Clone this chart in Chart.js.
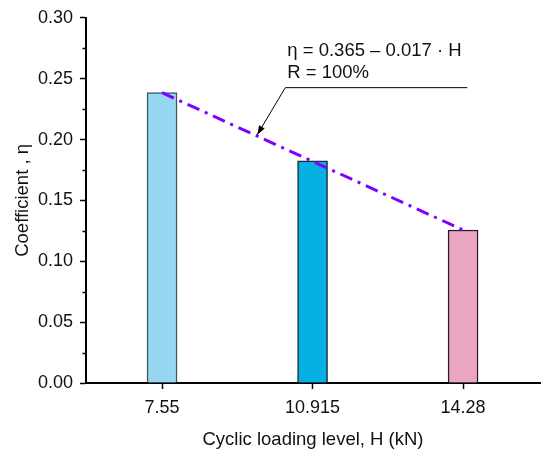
<!DOCTYPE html>
<html>
<head>
<meta charset="utf-8">
<script src="https://cdn.jsdelivr.net/npm/chart.js@4.4.0/dist/chart.umd.min.js"></script>
<style>
html,body{margin:0;padding:0;background:#fff;}
#wrap{width:542px;height:455px;}
</style>
</head>
<body>
<div id="wrap"><canvas id="c" width="542" height="455"></canvas></div>
<script>
const loadLevels = [7.55, 10.915, 14.28];
const xTickLabels = ['7.55', '10.915', '14.28'];
const coefficients = [0.2385, 0.1825, 0.1257];
const fitValues = [0.2385, 0.1821, 0.1257];
const yTickLabels = ['0.00', '0.05', '0.10', '0.15', '0.20', '0.25', '0.30'];
const barColors = ['#98D7F1', '#07B0E3', '#EAA5C2'];
const barBorders = ['#3E5563', '#1E2E38', '#2A1E24'];
const fitText = ['\u03B7 = 0.365 \u2013 0.017 \u00B7 H', 'R = 100%'];
const arrowAnchor = {x: 9.68, y: 0.2040};

const FONT = "'Liberation Sans', Arial, sans-serif";

const minorTicks = {
  id: 'minorTicks',
  afterDraw(chart) {
    const y = chart.scales.y, ctx = chart.ctx;
    ctx.save();
    ctx.strokeStyle = '#000';
    ctx.lineWidth = 1.5;
    for (let i = 0; i < yTickLabels.length - 1; i++) {
      const v = 0.025 + i * 0.05;
      const py = Math.round(y.getPixelForValue(v)) + 0.5;
      ctx.beginPath();
      ctx.moveTo(y.right - 3.5, py);
      ctx.lineTo(y.right, py);
      ctx.stroke();
    }
    ctx.restore();
  }
};

const annotation = {
  id: 'annotation',
  afterDraw(chart) {
    const xs = chart.scales.x, ys = chart.scales.y, ctx = chart.ctx;
    const tx = xs.getPixelForValue(arrowAnchor.x);
    const ty = ys.getPixelForValue(arrowAnchor.y);
    const ex = tx + 28, ey = ty - 47;
    ctx.save();
    ctx.strokeStyle = '#000';
    ctx.fillStyle = '#000';
    ctx.lineWidth = 1;
    ctx.beginPath();
    ctx.moveTo(ex + 182, ey);
    ctx.lineTo(ex, ey);
    ctx.lineTo(tx, ty);
    ctx.stroke();
    const ang = Math.atan2(ty - ey, tx - ex);
    const L = 9, W = 3.2;
    ctx.beginPath();
    ctx.moveTo(tx, ty);
    ctx.lineTo(tx - L * Math.cos(ang) + W * Math.sin(ang), ty - L * Math.sin(ang) - W * Math.cos(ang));
    ctx.lineTo(tx - L * Math.cos(ang) - W * Math.sin(ang), ty - L * Math.sin(ang) + W * Math.cos(ang));
    ctx.closePath();
    ctx.fill();
    ctx.font = '18.5px ' + FONT;
    ctx.textBaseline = 'alphabetic';
    ctx.textAlign = 'left';
    ctx.fillStyle = '#111';
    ctx.fillText(fitText[0], ex + 2, ey - 32);
    ctx.fillText(fitText[1], ex + 2, ey - 9.5);
    ctx.restore();
  }
};

new Chart(document.getElementById('c'), {
  data: {
    datasets: [
      {
        type: 'line',
        data: loadLevels.map((x, i) => ({x, y: fitValues[i]})),
        borderColor: '#8000FF',
        borderWidth: 3,
        borderDash: [13, 6, 3, 6],
        pointRadius: 0,
        fill: false,
        tension: 0,
        order: 0
      },
      {
        type: 'bar',
        data: loadLevels.map((x, i) => ({x, y: coefficients[i]})),
        backgroundColor: barColors,
        borderColor: barBorders,
        borderWidth: 1.5,
        barThickness: 30,
        order: 1
      }
    ]
  },
  options: {
    responsive: false,
    animation: false,
    layout: {padding: {top: 17, right: 2, left: 0, bottom: 0}},
    plugins: {legend: {display: false}, tooltip: {enabled: false}},
    scales: {
      x: {
        type: 'linear',
        min: 5.85,
        max: 16.0,
        offset: false,
        afterBuildTicks(s) { s.ticks = loadLevels.map(v => ({value: v})); },
        afterFit(s) { s.height = 72; },
        grid: {display: true, drawOnChartArea: false, offset: false, tickLength: 6, tickWidth: 1.5, tickColor: '#000'},
        border: {display: true, color: '#000', width: 2},
        ticks: {
          color: '#111',
          font: {family: FONT, size: 18},
          padding: 8,
          maxRotation: 0,
          autoSkip: false,
          callback(v) { const i = loadLevels.indexOf(v); return i >= 0 ? xTickLabels[i] : ''; }
        },
        title: {display: true, text: 'Cyclic loading level, H (kN)', color: '#111', font: {family: FONT, size: 18.5}, padding: {top: 4, bottom: 4}}
      },
      y: {
        type: 'linear',
        min: 0,
        max: 0.3,
        afterBuildTicks(s) { s.ticks = yTickLabels.map(t => ({value: parseFloat(t)})); },
        afterFit(s) { s.width = 86; },
        grid: {display: true, drawOnChartArea: false, tickLength: 6, tickWidth: 1.5, tickColor: '#000'},
        border: {display: true, color: '#000', width: 2},
        ticks: {
          color: '#111',
          font: {family: FONT, size: 18},
          padding: 7,
          callback(v) { return yTickLabels.find(t => Math.abs(parseFloat(t) - v) < 1e-9) || ''; }
        },
        title: {display: true, text: 'Coefficient , \u03B7', color: '#111', font: {family: FONT, size: 18.5}, padding: {top: 12, bottom: 4}}
      }
    }
  },
  plugins: [minorTicks, annotation]
});
</script>
</body>
</html>
